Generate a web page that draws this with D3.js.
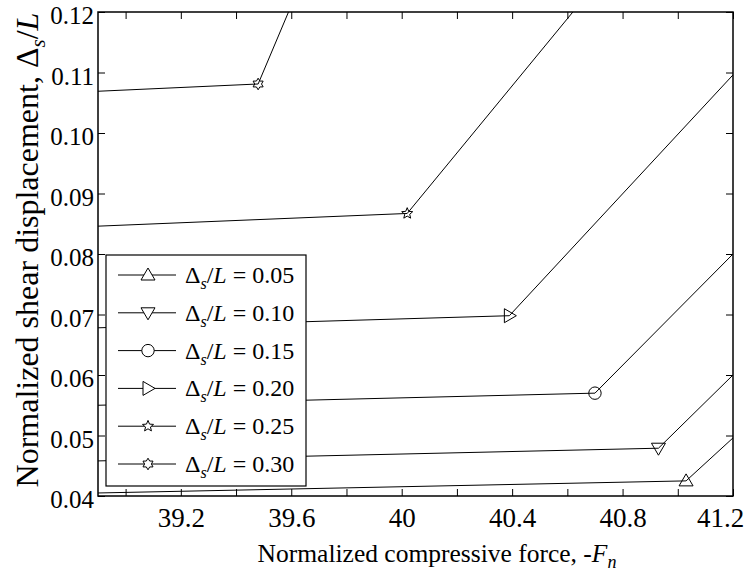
<!DOCTYPE html>
<html>
<head>
<meta charset="utf-8">
<script src="https://cdn.jsdelivr.net/npm/d3@7"></script>
<style>
  html, body { margin: 0; padding: 0; background: #fff; }
  svg text { font-family: "Liberation Serif", "Times New Roman", Tinos, "DejaVu Serif", serif; fill: #000; }
</style>
</head>
<body>
<svg id="chart" width="750" height="577"></svg>
<script>
// Shear displacement vs compressive force, one curve per displacement level
const seriesLabels = ["0.05", "0.10", "0.15", "0.20", "0.25", "0.30"];
const seriesSymbols = ["triUp", "triDown", "circle", "triRight", "star5", "star6"];

// [force, displacement] points; the middle point carries the marker
const curve005 = [[38.9, 0.0405], [41.03, 0.0425], [41.2, 0.0496]];
const curve010 = [[38.9, 0.0458], [40.93, 0.0479], [41.2, 0.0600]];
const curve015 = [[38.9, 0.0550], [40.70, 0.0570], [41.2, 0.0800]];
const curve020 = [[38.9, 0.0678], [40.39, 0.0698], [41.2, 0.1096]];
const curve025 = [[38.9, 0.0846], [40.02, 0.0867], [40.62, 0.1200]];
const curve030 = [[38.9, 0.1069], [39.48, 0.1081], [39.59, 0.1200]];
const curves = [curve005, curve010, curve015, curve020, curve025, curve030];
const markerIndex = 1;

const xDomain = [38.9, 41.2];
const yDomain = [0.04, 0.12];
const xTickValues = [39.0, 39.2, 39.4, 39.6, 39.8, 40.0, 40.2, 40.4, 40.6, 40.8, 41.0, 41.2];
const xTickLabels = ["", "39.2", "", "39.6", "", "40", "", "40.4", "", "40.8", "", "41.2"];
const yTickValues = [0.04, 0.05, 0.06, 0.07, 0.08, 0.09, 0.10, 0.11, 0.12];
const yTickLabels = ["0.04", "0.05", "0.06", "0.07", "0.08", "0.09", "0.10", "0.11", "0.12"];

const FONT = "Liberation Serif, Times New Roman, Tinos, DejaVu Serif, serif";
const plot = { left: 98, right: 733, top: 12, bottom: 496 };
const svg = d3.select("#chart");

const x = d3.scaleLinear().domain(xDomain).range([plot.left, plot.right]);
const y = d3.scaleLinear().domain(yDomain).range([plot.bottom, plot.top]);

svg.append("defs").append("clipPath").attr("id", "plotClip")
  .append("rect")
  .attr("x", plot.left).attr("y", plot.top)
  .attr("width", plot.right - plot.left).attr("height", plot.bottom - plot.top);

// Open marker shapes, roughly 13-14 px across
function markerPath(kind) {
  const p = d3.path();
  if (kind === "triUp") {
    p.moveTo(0, -7); p.lineTo(7, 5); p.lineTo(-7, 5); p.closePath();
  } else if (kind === "triDown") {
    p.moveTo(0, 7); p.lineTo(7, -5); p.lineTo(-7, -5); p.closePath();
  } else if (kind === "triRight") {
    p.moveTo(7, 0); p.lineTo(-5, 7); p.lineTo(-5, -7); p.closePath();
  } else if (kind === "circle") {
    p.arc(0, 0, 6.2, 0, 2 * Math.PI);
  } else if (kind === "star5" || kind === "star6") {
    const n = kind === "star5" ? 5 : 6;
    const outer = 5.8, inner = kind === "star5" ? 2.6 : 3.4;
    for (let i = 0; i < n * 2; i++) {
      const r = i % 2 === 0 ? outer : inner;
      const a = -Math.PI / 2 + i * Math.PI / n;
      if (i === 0) p.moveTo(r * Math.cos(a), r * Math.sin(a));
      else p.lineTo(r * Math.cos(a), r * Math.sin(a));
    }
    p.closePath();
  }
  return p.toString();
}

// Curves
const line = d3.line().x(d => x(d[0])).y(d => y(d[1]));
const gData = svg.append("g").attr("clip-path", "url(#plotClip)");
curves.forEach(c => {
  gData.append("path").attr("d", line(c))
    .attr("fill", "none").attr("stroke", "#000").attr("stroke-width", 1);
});
curves.forEach((c, i) => {
  const m = c[markerIndex];
  svg.append("path")
    .attr("transform", `translate(${x(m[0])},${y(m[1])})`)
    .attr("d", markerPath(seriesSymbols[i]))
    .attr("fill", "none").attr("stroke", "#000").attr("stroke-width", 1);
});

// Axes with inward ticks on all four sides
const tickLen = 7;
const xAxisBottom = d3.axisBottom(x).tickValues(xTickValues)
  .tickFormat((d, i) => xTickLabels[i]).tickSizeInner(-tickLen).tickSizeOuter(0).tickPadding(12);
const xAxisTop = d3.axisTop(x).tickValues(xTickValues)
  .tickFormat("").tickSizeInner(-tickLen).tickSizeOuter(0);
const yAxisLeft = d3.axisLeft(y).tickValues(yTickValues)
  .tickFormat((d, i) => yTickLabels[i]).tickSizeInner(-tickLen).tickSizeOuter(0).tickPadding(4);
const yAxisRight = d3.axisRight(y).tickValues(yTickValues)
  .tickFormat("").tickSizeInner(-tickLen).tickSizeOuter(0);

function styleAxis(g, size) {
  g.attr("font-family", FONT);
  g.select(".domain").remove();
  g.selectAll(".tick line").attr("stroke", "#000").attr("stroke-width", 1);
  g.selectAll(".tick text").attr("font-size", size).attr("font-family", FONT).attr("fill", "#000");
}
svg.append("g").attr("transform", `translate(0,${plot.bottom})`).call(xAxisBottom)
  .call(g => styleAxis(g, 27))
  .call(g => g.selectAll(".tick text").filter((d, i) => i === xTickValues.length - 1).attr("dx", -13));
svg.append("g").attr("transform", `translate(0,${plot.top})`).call(xAxisTop).call(g => styleAxis(g, 27));
svg.append("g").attr("transform", `translate(${plot.left},0)`).call(yAxisLeft)
  .call(g => styleAxis(g, 25))
  .call(g => g.selectAll(".tick text").attr("dy", "0.47em"));
svg.append("g").attr("transform", `translate(${plot.right},0)`).call(yAxisRight).call(g => styleAxis(g, 25));

// Frame
svg.append("rect")
  .attr("x", plot.left).attr("y", plot.top)
  .attr("width", plot.right - plot.left).attr("height", plot.bottom - plot.top)
  .attr("fill", "none").attr("stroke", "#000").attr("stroke-width", 1.5);

// Axis titles
const xTitle = svg.append("text")
  .attr("x", 437).attr("y", 562)
  .attr("text-anchor", "middle").attr("font-size", 25.5);
xTitle.append("tspan").text("Normalized compressive force, -");
xTitle.append("tspan").attr("font-style", "italic").text("F");
xTitle.append("tspan").attr("font-style", "italic").attr("font-size", 18).attr("dy", 6).text("n");

const yTitle = svg.append("text")
  .attr("transform", `translate(38,250) rotate(-90)`)
  .attr("text-anchor", "middle").attr("font-size", 32);
yTitle.append("tspan").text("Normalized shear displacement, \u0394");
yTitle.append("tspan").attr("font-style", "italic").attr("font-size", 21).attr("dy", 7).text("s");
yTitle.append("tspan").attr("dy", -7).text("/");
yTitle.append("tspan").attr("font-style", "italic").text("L");

// Legend
const legend = { x: 106, y: 255, w: 200, h: 231, rowTop: 275, rowGap: 37.8 };
const gLeg = svg.append("g");
gLeg.append("rect")
  .attr("x", legend.x).attr("y", legend.y).attr("width", legend.w).attr("height", legend.h)
  .attr("fill", "#fff").attr("stroke", "#000").attr("stroke-width", 1.2);
seriesLabels.forEach((lab, i) => {
  const cy = legend.rowTop + i * legend.rowGap;
  gLeg.append("line").attr("x1", 118).attr("x2", 176).attr("y1", cy).attr("y2", cy)
    .attr("stroke", "#000").attr("stroke-width", 1);
  gLeg.append("path").attr("transform", `translate(148,${cy})`)
    .attr("d", markerPath(seriesSymbols[i]))
    .attr("fill", "#fff").attr("stroke", "#000").attr("stroke-width", 1);
  const t = gLeg.append("text").attr("x", 185).attr("y", cy + 8).attr("font-size", 24);
  t.append("tspan").text("\u0394");
  t.append("tspan").attr("font-style", "italic").attr("font-size", 16).attr("dy", 6).text("s");
  t.append("tspan").attr("dy", -6).text("/");
  t.append("tspan").attr("font-style", "italic").text("L");
  t.append("tspan").text(" = " + lab);
});
</script>
</body>
</html>
